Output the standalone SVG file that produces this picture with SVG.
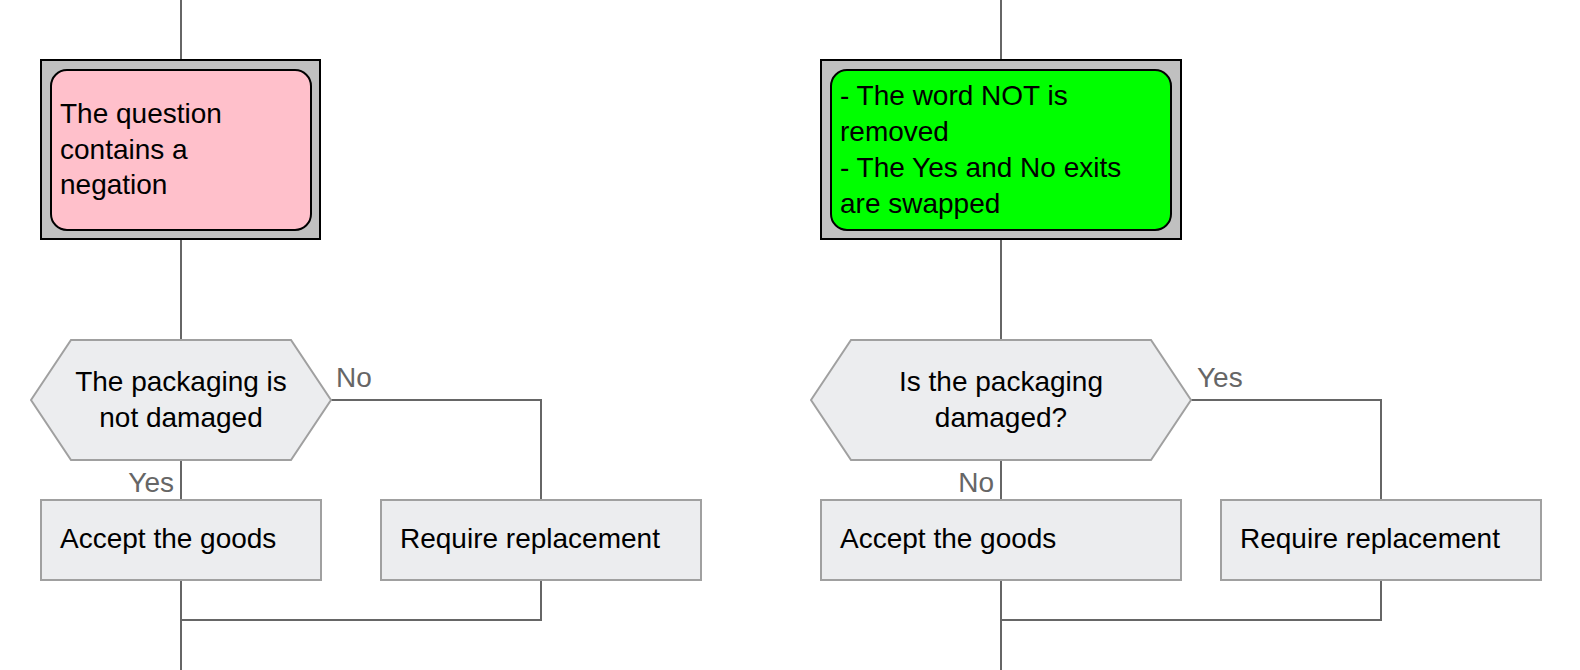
<svg xmlns="http://www.w3.org/2000/svg" width="1580" height="670" viewBox="0 0 1580 670">
<style>
.t{font-family:"Liberation Sans",Arial,sans-serif;font-size:28px;fill:#000}
.lbl{font-family:"Liberation Sans",Arial,sans-serif;font-size:28px;fill:#666}
.outer{fill:#C0C0C0;stroke:#000;stroke-width:2}
.inner{stroke:#000;stroke-width:2}
.shape{fill:#ECEDEF;stroke:#A0A0A0;stroke-width:2}
.c{fill:none;stroke:#666;stroke-width:2}
</style>
<rect width="1580" height="670" fill="#fff"/>
<g id="connectors">
<path class="c" d="M181,0V60M181,240V340M181,460V500M331,400H541V500M181,580V670M541,580V620H181"/>
<path class="c" d="M1001,0V60M1001,240V340M1001,460V500M1191,400H1381V500M1001,580V670M1381,580V620H1001"/>
<text class="lbl" x="336" y="387">No</text>
<text class="lbl" x="174" y="492" text-anchor="end">Yes</text>
<text class="lbl" x="1197" y="387">Yes</text>
<text class="lbl" x="994" y="492" text-anchor="end">No</text>
</g>
<g id="negation-note">
<rect class="outer" x="41" y="60" width="279" height="179"/>
<rect class="inner" x="51" y="70" width="260" height="160" rx="16" fill="#FFC0CB"/>
<text class="t" x="60" y="123">The question</text>
<text class="t" x="60" y="158.5">contains a</text>
<text class="t" x="60" y="194">negation</text>
</g>
<g id="decision-left">
<polygon class="shape" points="31,400 71,340 291,340 331,400 291,460 71,460"/>
<text class="t" x="181" y="391" text-anchor="middle">The packaging is</text>
<text class="t" x="181" y="427" text-anchor="middle">not damaged</text>
</g>
<g id="accept-left">
<rect class="shape" x="41" y="500" width="280" height="80"/>
<text class="t" x="60" y="548">Accept the goods</text>
</g>
<g id="replace-left">
<rect class="shape" x="381" y="500" width="320" height="80"/>
<text class="t" x="400" y="548">Require replacement</text>
</g>
<g id="rule-note">
<rect class="outer" x="821" y="60" width="360" height="179"/>
<rect class="inner" x="831" y="70" width="340" height="160" rx="16" fill="#00FF00"/>
<text class="t" x="840" y="105">- The word NOT is</text>
<text class="t" x="840" y="141">removed</text>
<text class="t" x="840" y="177">- The Yes and No exits</text>
<text class="t" x="840" y="213">are swapped</text>
</g>
<g id="decision-right">
<polygon class="shape" points="811,400 851,340 1151,340 1191,400 1151,460 851,460"/>
<text class="t" x="1001" y="391" text-anchor="middle">Is the packaging</text>
<text class="t" x="1001" y="427" text-anchor="middle">damaged?</text>
</g>
<g id="accept-right">
<rect class="shape" x="821" y="500" width="360" height="80"/>
<text class="t" x="840" y="548">Accept the goods</text>
</g>
<g id="replace-right">
<rect class="shape" x="1221" y="500" width="320" height="80"/>
<text class="t" x="1240" y="548">Require replacement</text>
</g>
</svg>
